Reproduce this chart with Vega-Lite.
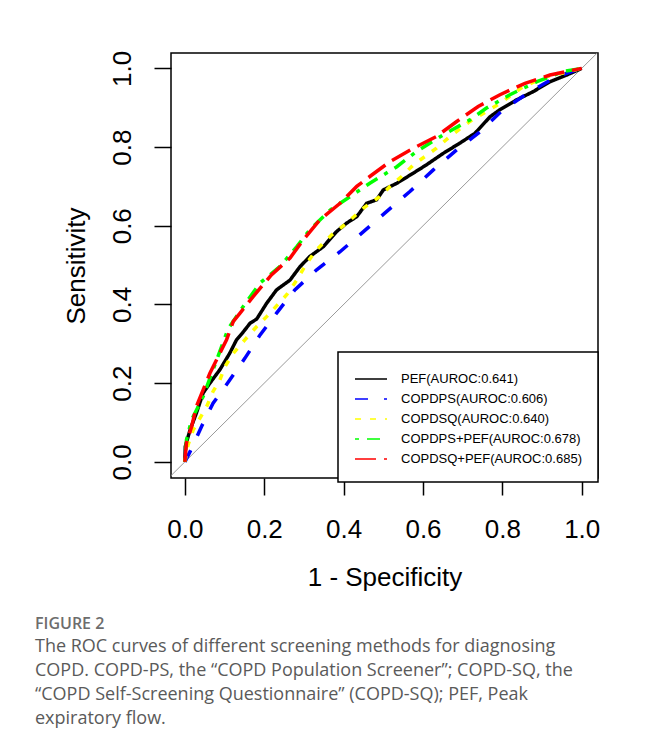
{
  "$schema": "https://vega.github.io/schema/vega-lite/v6.json",
  "width": 427,
  "height": 425,
  "autosize": {"type": "none"},
  "padding": {"left": 171, "top": 53, "right": 50, "bottom": 271},
  "background": "white",
  "config": {
    "view": {"stroke": "black", "strokeWidth": 1.5},
    "axis": {
      "domain": false, "grid": false, "ticks": true, "tickColor": "black", "tickWidth": 1.5, "tickSize": 17,
      "labelFont": "Liberation Sans", "labelFontSize": 26, "labelColor": "black", "labelFlush": false, "labelOverlap": false,
      "titleFont": "Liberation Sans", "titleFontSize": 26, "titleFontWeight": "normal", "titleColor": "black"
    },
    "axisX": {"labelPadding": 42, "labelBaseline": "alphabetic", "titlePadding": 22},
    "axisY": {"labelAngle": -90, "labelAlign": "center", "labelBaseline": "alphabetic", "labelPadding": 24, "titlePadding": 20},
    "legend": {
      "strokeColor": "black", "strokeWidth": 1.5, "fillColor": "white", "padding": 16,
      "labelFont": "Liberation Sans", "labelFontSize": 13, "labelColor": "black",
      "labelOffset": 19, "rowPadding": 2, "symbolType": "M-1.6,0H1.6", "symbolSize": 400, "symbolOffset": 6, "symbolStrokeWidth": 1.5, "labelLimit": 400
    }
  },
  "title": {
    "text": "FIGURE 2",
    "subtitle": [
      "The ROC curves of different screening methods for diagnosing",
      "COPD. COPD-PS, the “COPD Population Screener”; COPD-SQ, the",
      "“COPD Self-Screening Questionnaire” (COPD-SQ); PEF, Peak",
      "expiratory flow."
    ],
    "orient": "bottom", "anchor": "start", "frame": "group", "dx": -136, "offset": 26,
    "font": "Open Sans", "fontSize": 16, "fontWeight": 600, "color": "#6d6d6d",
    "subtitleFont": "Open Sans", "subtitleFontSize": 18, "subtitleColor": "#5a5a5a", "subtitleLineHeight": 24, "subtitlePadding": 6
  },
  "layer": [
    {
      "data": {"values": [{"fpr": -0.05, "sens": -0.05}, {"fpr": 1.05, "sens": 1.05}]},
      "mark": {"type": "line", "color": "#9a9a9a", "strokeWidth": 1, "clip": true},
      "encoding": {
        "x": {"field": "fpr", "type": "quantitative", "scale": {"domain": [-0.035, 1.041], "nice": false, "zero": false}, "axis": {"values": [0, 0.2, 0.4, 0.6, 0.8, 1], "format": ".1f", "title": "1 - Specificity"}},
        "y": {"field": "sens", "type": "quantitative", "scale": {"domain": [-0.041, 1.039], "nice": false, "zero": false}, "axis": {"values": [0, 0.2, 0.4, 0.6, 0.8, 1], "format": ".1f", "title": "Sensitivity"}}
      }
    },
    {
      "data": {"values": [
        {"method": "PEF(AUROC:0.641)", "fpr": 0, "sens": 0},
        {"method": "PEF(AUROC:0.641)", "fpr": 0.001, "sens": 0.039},
        {"method": "PEF(AUROC:0.641)", "fpr": 0.013, "sens": 0.081},
        {"method": "PEF(AUROC:0.641)", "fpr": 0.029, "sens": 0.124},
        {"method": "PEF(AUROC:0.641)", "fpr": 0.046, "sens": 0.175},
        {"method": "PEF(AUROC:0.641)", "fpr": 0.063, "sens": 0.2},
        {"method": "PEF(AUROC:0.641)", "fpr": 0.088, "sens": 0.234},
        {"method": "PEF(AUROC:0.641)", "fpr": 0.113, "sens": 0.276},
        {"method": "PEF(AUROC:0.641)", "fpr": 0.13, "sens": 0.31},
        {"method": "PEF(AUROC:0.641)", "fpr": 0.147, "sens": 0.33},
        {"method": "PEF(AUROC:0.641)", "fpr": 0.164, "sens": 0.352},
        {"method": "PEF(AUROC:0.641)", "fpr": 0.181, "sens": 0.363},
        {"method": "PEF(AUROC:0.641)", "fpr": 0.206, "sens": 0.403},
        {"method": "PEF(AUROC:0.641)", "fpr": 0.231, "sens": 0.437},
        {"method": "PEF(AUROC:0.641)", "fpr": 0.265, "sens": 0.462},
        {"method": "PEF(AUROC:0.641)", "fpr": 0.29, "sens": 0.496},
        {"method": "PEF(AUROC:0.641)", "fpr": 0.315, "sens": 0.522},
        {"method": "PEF(AUROC:0.641)", "fpr": 0.349, "sens": 0.547},
        {"method": "PEF(AUROC:0.641)", "fpr": 0.382, "sens": 0.585},
        {"method": "PEF(AUROC:0.641)", "fpr": 0.408, "sens": 0.607},
        {"method": "PEF(AUROC:0.641)", "fpr": 0.433, "sens": 0.623},
        {"method": "PEF(AUROC:0.641)", "fpr": 0.458, "sens": 0.657},
        {"method": "PEF(AUROC:0.641)", "fpr": 0.483, "sens": 0.666},
        {"method": "PEF(AUROC:0.641)", "fpr": 0.5, "sens": 0.691},
        {"method": "PEF(AUROC:0.641)", "fpr": 0.534, "sens": 0.708},
        {"method": "PEF(AUROC:0.641)", "fpr": 0.576, "sens": 0.734},
        {"method": "PEF(AUROC:0.641)", "fpr": 0.609, "sens": 0.755},
        {"method": "PEF(AUROC:0.641)", "fpr": 0.651, "sens": 0.784},
        {"method": "PEF(AUROC:0.641)", "fpr": 0.693, "sens": 0.81},
        {"method": "PEF(AUROC:0.641)", "fpr": 0.731, "sens": 0.835},
        {"method": "PEF(AUROC:0.641)", "fpr": 0.769, "sens": 0.877},
        {"method": "PEF(AUROC:0.641)", "fpr": 0.794, "sens": 0.895},
        {"method": "PEF(AUROC:0.641)", "fpr": 0.836, "sens": 0.92},
        {"method": "PEF(AUROC:0.641)", "fpr": 0.878, "sens": 0.941},
        {"method": "PEF(AUROC:0.641)", "fpr": 0.92, "sens": 0.966},
        {"method": "PEF(AUROC:0.641)", "fpr": 0.962, "sens": 0.983},
        {"method": "PEF(AUROC:0.641)", "fpr": 1, "sens": 1},

        {"method": "COPDPS(AUROC:0.606)", "fpr": 0, "sens": 0},
        {"method": "COPDPS(AUROC:0.606)", "fpr": 0.013, "sens": 0.026},
        {"method": "COPDPS(AUROC:0.606)", "fpr": 0.042, "sens": 0.09},
        {"method": "COPDPS(AUROC:0.606)", "fpr": 0.071, "sens": 0.149},
        {"method": "COPDPS(AUROC:0.606)", "fpr": 0.113, "sens": 0.208},
        {"method": "COPDPS(AUROC:0.606)", "fpr": 0.151, "sens": 0.263},
        {"method": "COPDPS(AUROC:0.606)", "fpr": 0.189, "sens": 0.322},
        {"method": "COPDPS(AUROC:0.606)", "fpr": 0.231, "sens": 0.378},
        {"method": "COPDPS(AUROC:0.606)", "fpr": 0.277, "sens": 0.437},
        {"method": "COPDPS(AUROC:0.606)", "fpr": 0.332, "sens": 0.488},
        {"method": "COPDPS(AUROC:0.606)", "fpr": 0.391, "sens": 0.534},
        {"method": "COPDPS(AUROC:0.606)", "fpr": 0.45, "sens": 0.585},
        {"method": "COPDPS(AUROC:0.606)", "fpr": 0.508, "sens": 0.636},
        {"method": "COPDPS(AUROC:0.606)", "fpr": 0.567, "sens": 0.687},
        {"method": "COPDPS(AUROC:0.606)", "fpr": 0.626, "sens": 0.742},
        {"method": "COPDPS(AUROC:0.606)", "fpr": 0.685, "sens": 0.793},
        {"method": "COPDPS(AUROC:0.606)", "fpr": 0.744, "sens": 0.839},
        {"method": "COPDPS(AUROC:0.606)", "fpr": 0.802, "sens": 0.895},
        {"method": "COPDPS(AUROC:0.606)", "fpr": 0.87, "sens": 0.941},
        {"method": "COPDPS(AUROC:0.606)", "fpr": 0.937, "sens": 0.979},
        {"method": "COPDPS(AUROC:0.606)", "fpr": 1, "sens": 1},

        {"method": "COPDSQ(AUROC:0.640)", "fpr": 0, "sens": 0},
        {"method": "COPDSQ(AUROC:0.640)", "fpr": 0.008, "sens": 0.043},
        {"method": "COPDSQ(AUROC:0.640)", "fpr": 0.021, "sens": 0.081},
        {"method": "COPDSQ(AUROC:0.640)", "fpr": 0.038, "sens": 0.111},
        {"method": "COPDSQ(AUROC:0.640)", "fpr": 0.055, "sens": 0.141},
        {"method": "COPDSQ(AUROC:0.640)", "fpr": 0.071, "sens": 0.179},
        {"method": "COPDSQ(AUROC:0.640)", "fpr": 0.088, "sens": 0.208},
        {"method": "COPDSQ(AUROC:0.640)", "fpr": 0.101, "sens": 0.242},
        {"method": "COPDSQ(AUROC:0.640)", "fpr": 0.122, "sens": 0.276},
        {"method": "COPDSQ(AUROC:0.640)", "fpr": 0.151, "sens": 0.31},
        {"method": "COPDSQ(AUROC:0.640)", "fpr": 0.181, "sens": 0.344},
        {"method": "COPDSQ(AUROC:0.640)", "fpr": 0.206, "sens": 0.369},
        {"method": "COPDSQ(AUROC:0.640)", "fpr": 0.256, "sens": 0.424},
        {"method": "COPDSQ(AUROC:0.640)", "fpr": 0.282, "sens": 0.462},
        {"method": "COPDSQ(AUROC:0.640)", "fpr": 0.307, "sens": 0.505},
        {"method": "COPDSQ(AUROC:0.640)", "fpr": 0.332, "sens": 0.539},
        {"method": "COPDSQ(AUROC:0.640)", "fpr": 0.37, "sens": 0.577},
        {"method": "COPDSQ(AUROC:0.640)", "fpr": 0.408, "sens": 0.607},
        {"method": "COPDSQ(AUROC:0.640)", "fpr": 0.45, "sens": 0.645},
        {"method": "COPDSQ(AUROC:0.640)", "fpr": 0.491, "sens": 0.674},
        {"method": "COPDSQ(AUROC:0.640)", "fpr": 0.517, "sens": 0.7},
        {"method": "COPDSQ(AUROC:0.640)", "fpr": 0.546, "sens": 0.725},
        {"method": "COPDSQ(AUROC:0.640)", "fpr": 0.576, "sens": 0.755},
        {"method": "COPDSQ(AUROC:0.640)", "fpr": 0.634, "sens": 0.797},
        {"method": "COPDSQ(AUROC:0.640)", "fpr": 0.668, "sens": 0.827},
        {"method": "COPDSQ(AUROC:0.640)", "fpr": 0.718, "sens": 0.865},
        {"method": "COPDSQ(AUROC:0.640)", "fpr": 0.794, "sens": 0.911},
        {"method": "COPDSQ(AUROC:0.640)", "fpr": 0.853, "sens": 0.954},
        {"method": "COPDSQ(AUROC:0.640)", "fpr": 0.912, "sens": 0.979},
        {"method": "COPDSQ(AUROC:0.640)", "fpr": 1, "sens": 1},

        {"method": "COPDPS+PEF(AUROC:0.678)", "fpr": 0, "sens": 0},
        {"method": "COPDPS+PEF(AUROC:0.678)", "fpr": 0.004, "sens": 0.056},
        {"method": "COPDPS+PEF(AUROC:0.678)", "fpr": 0.017, "sens": 0.107},
        {"method": "COPDPS+PEF(AUROC:0.678)", "fpr": 0.046, "sens": 0.166},
        {"method": "COPDPS+PEF(AUROC:0.678)", "fpr": 0.071, "sens": 0.234},
        {"method": "COPDPS+PEF(AUROC:0.678)", "fpr": 0.105, "sens": 0.327},
        {"method": "COPDPS+PEF(AUROC:0.678)", "fpr": 0.113, "sens": 0.344},
        {"method": "COPDPS+PEF(AUROC:0.678)", "fpr": 0.147, "sens": 0.395},
        {"method": "COPDPS+PEF(AUROC:0.678)", "fpr": 0.189, "sens": 0.454},
        {"method": "COPDPS+PEF(AUROC:0.678)", "fpr": 0.239, "sens": 0.496},
        {"method": "COPDPS+PEF(AUROC:0.678)", "fpr": 0.282, "sens": 0.547},
        {"method": "COPDPS+PEF(AUROC:0.678)", "fpr": 0.315, "sens": 0.59},
        {"method": "COPDPS+PEF(AUROC:0.678)", "fpr": 0.366, "sens": 0.64},
        {"method": "COPDPS+PEF(AUROC:0.678)", "fpr": 0.416, "sens": 0.674},
        {"method": "COPDPS+PEF(AUROC:0.678)", "fpr": 0.466, "sens": 0.708},
        {"method": "COPDPS+PEF(AUROC:0.678)", "fpr": 0.534, "sens": 0.75},
        {"method": "COPDPS+PEF(AUROC:0.678)", "fpr": 0.584, "sens": 0.789},
        {"method": "COPDPS+PEF(AUROC:0.678)", "fpr": 0.651, "sens": 0.831},
        {"method": "COPDPS+PEF(AUROC:0.678)", "fpr": 0.718, "sens": 0.869},
        {"method": "COPDPS+PEF(AUROC:0.678)", "fpr": 0.76, "sens": 0.899},
        {"method": "COPDPS+PEF(AUROC:0.678)", "fpr": 0.819, "sens": 0.933},
        {"method": "COPDPS+PEF(AUROC:0.678)", "fpr": 0.887, "sens": 0.966},
        {"method": "COPDPS+PEF(AUROC:0.678)", "fpr": 0.954, "sens": 0.992},
        {"method": "COPDPS+PEF(AUROC:0.678)", "fpr": 1, "sens": 1},

        {"method": "COPDSQ+PEF(AUROC:0.685)", "fpr": 0, "sens": 0},
        {"method": "COPDSQ+PEF(AUROC:0.685)", "fpr": 0.001, "sens": 0.013},
        {"method": "COPDSQ+PEF(AUROC:0.685)", "fpr": 0.004, "sens": 0.048},
        {"method": "COPDSQ+PEF(AUROC:0.685)", "fpr": 0.017, "sens": 0.09},
        {"method": "COPDSQ+PEF(AUROC:0.685)", "fpr": 0.029, "sens": 0.141},
        {"method": "COPDSQ+PEF(AUROC:0.685)", "fpr": 0.046, "sens": 0.183},
        {"method": "COPDSQ+PEF(AUROC:0.685)", "fpr": 0.063, "sens": 0.225},
        {"method": "COPDSQ+PEF(AUROC:0.685)", "fpr": 0.088, "sens": 0.276},
        {"method": "COPDSQ+PEF(AUROC:0.685)", "fpr": 0.105, "sens": 0.31},
        {"method": "COPDSQ+PEF(AUROC:0.685)", "fpr": 0.122, "sens": 0.357},
        {"method": "COPDSQ+PEF(AUROC:0.685)", "fpr": 0.139, "sens": 0.378},
        {"method": "COPDSQ+PEF(AUROC:0.685)", "fpr": 0.172, "sens": 0.42},
        {"method": "COPDSQ+PEF(AUROC:0.685)", "fpr": 0.218, "sens": 0.475},
        {"method": "COPDSQ+PEF(AUROC:0.685)", "fpr": 0.265, "sens": 0.518},
        {"method": "COPDSQ+PEF(AUROC:0.685)", "fpr": 0.298, "sens": 0.564},
        {"method": "COPDSQ+PEF(AUROC:0.685)", "fpr": 0.34, "sens": 0.615},
        {"method": "COPDSQ+PEF(AUROC:0.685)", "fpr": 0.391, "sens": 0.657},
        {"method": "COPDSQ+PEF(AUROC:0.685)", "fpr": 0.433, "sens": 0.7},
        {"method": "COPDSQ+PEF(AUROC:0.685)", "fpr": 0.471, "sens": 0.729},
        {"method": "COPDSQ+PEF(AUROC:0.685)", "fpr": 0.517, "sens": 0.763},
        {"method": "COPDSQ+PEF(AUROC:0.685)", "fpr": 0.576, "sens": 0.797},
        {"method": "COPDSQ+PEF(AUROC:0.685)", "fpr": 0.634, "sens": 0.827},
        {"method": "COPDSQ+PEF(AUROC:0.685)", "fpr": 0.685, "sens": 0.865},
        {"method": "COPDSQ+PEF(AUROC:0.685)", "fpr": 0.739, "sens": 0.903},
        {"method": "COPDSQ+PEF(AUROC:0.685)", "fpr": 0.794, "sens": 0.933},
        {"method": "COPDSQ+PEF(AUROC:0.685)", "fpr": 0.857, "sens": 0.962},
        {"method": "COPDSQ+PEF(AUROC:0.685)", "fpr": 0.92, "sens": 0.983},
        {"method": "COPDSQ+PEF(AUROC:0.685)", "fpr": 1, "sens": 1}
      ]},
      "mark": {"type": "line", "strokeWidth": 3.5, "strokeCap": "butt", "clip": true},
      "encoding": {
        "x": {"field": "fpr", "type": "quantitative", "scale": {"domain": [-0.035, 1.041], "nice": false, "zero": false}, "axis": {"values": [0, 0.2, 0.4, 0.6, 0.8, 1], "format": ".1f", "title": "1 - Specificity"}},
        "y": {"field": "sens", "type": "quantitative", "scale": {"domain": [-0.041, 1.039], "nice": false, "zero": false}, "axis": {"values": [0, 0.2, 0.4, 0.6, 0.8, 1], "format": ".1f", "title": "Sensitivity"}},
        "color": {
          "field": "method", "type": "nominal",
          "scale": {"domain": ["PEF(AUROC:0.641)", "COPDPS(AUROC:0.606)", "COPDSQ(AUROC:0.640)", "COPDPS+PEF(AUROC:0.678)", "COPDSQ+PEF(AUROC:0.685)"], "range": ["#000000", "#0000ff", "#ffff00", "#00ff00", "#ff0000"]},
          "legend": {
            "title": null, "orient": "none", "legendX": 167, "legendY": 299,
            "encode": {"symbols": {"update": {"strokeDash": {"signal": "datum.value == 'COPDPS(AUROC:0.606)' ? [7,5] : datum.value == 'COPDSQ(AUROC:0.640)' ? [3,4] : datum.value == 'COPDPS+PEF(AUROC:0.678)' ? [2,4,7,4] : datum.value == 'COPDSQ+PEF(AUROC:0.685)' ? [13,6] : [1,0]"}}}}
          }
        },
        "strokeDash": {
          "field": "method", "type": "nominal",
          "scale": {"domain": ["PEF(AUROC:0.641)", "COPDPS(AUROC:0.606)", "COPDSQ(AUROC:0.640)", "COPDPS+PEF(AUROC:0.678)", "COPDSQ+PEF(AUROC:0.685)"], "range": [[1, 0], [13, 16], [6, 9], [4, 8, 13, 8], [21, 8]]},
          "legend": null
        }
      }
    }
  ]
}
